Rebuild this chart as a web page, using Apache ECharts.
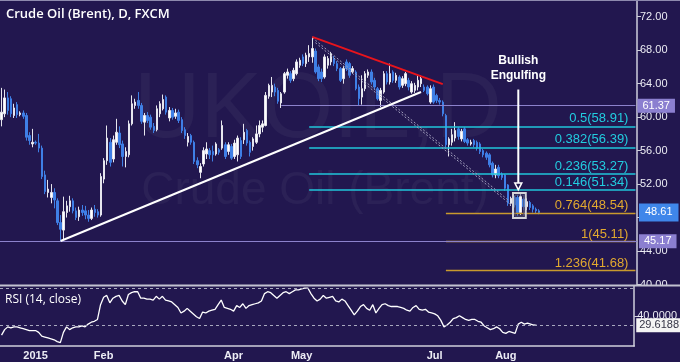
<!DOCTYPE html>
<html><head><meta charset="utf-8">
<script src="https://cdn.jsdelivr.net/npm/echarts@6/dist/echarts.min.js"></script>
<style>html,body{margin:0;padding:0;background:#22174f;}#c{width:680px;height:362px;}</style>
</head><body><div id="c"></div>
<script>
// ---------- DATA ----------
const dates = [
'2014-12-17','2014-12-18','2014-12-19','2014-12-22','2014-12-23','2014-12-24','2014-12-25','2014-12-26','2014-12-29','2014-12-30','2014-12-31',
'2015-01-01','2015-01-02','2015-01-05','2015-01-06','2015-01-07','2015-01-08','2015-01-09','2015-01-12','2015-01-13','2015-01-14','2015-01-15','2015-01-16','2015-01-19','2015-01-20','2015-01-21','2015-01-22','2015-01-23','2015-01-26','2015-01-27','2015-01-28','2015-01-29','2015-01-30',
'2015-02-02','2015-02-03','2015-02-04','2015-02-05','2015-02-06','2015-02-09','2015-02-10','2015-02-11','2015-02-12','2015-02-13','2015-02-16','2015-02-17','2015-02-18','2015-02-19','2015-02-20','2015-02-23','2015-02-24','2015-02-25','2015-02-26','2015-02-27',
'2015-03-02','2015-03-03','2015-03-04','2015-03-05','2015-03-06','2015-03-09','2015-03-10','2015-03-11','2015-03-12','2015-03-13','2015-03-16','2015-03-17','2015-03-18','2015-03-19','2015-03-20','2015-03-23','2015-03-24','2015-03-25','2015-03-26','2015-03-27','2015-03-30','2015-03-31',
'2015-04-01','2015-04-02','2015-04-03','2015-04-06','2015-04-07','2015-04-08','2015-04-09','2015-04-10','2015-04-13','2015-04-14','2015-04-15','2015-04-16','2015-04-17','2015-04-20','2015-04-21','2015-04-22','2015-04-23','2015-04-24','2015-04-27','2015-04-28','2015-04-29','2015-04-30',
'2015-05-01','2015-05-04','2015-05-05','2015-05-06','2015-05-07','2015-05-08','2015-05-11','2015-05-12','2015-05-13','2015-05-14','2015-05-15','2015-05-18','2015-05-19','2015-05-20','2015-05-21','2015-05-22','2015-05-25','2015-05-26','2015-05-27','2015-05-28','2015-05-29',
'2015-06-01','2015-06-02','2015-06-03','2015-06-04','2015-06-05','2015-06-08','2015-06-09','2015-06-10','2015-06-11','2015-06-12','2015-06-15','2015-06-16','2015-06-17','2015-06-18','2015-06-19','2015-06-22','2015-06-23','2015-06-24','2015-06-25','2015-06-26','2015-06-29','2015-06-30',
'2015-07-01','2015-07-02','2015-07-03','2015-07-06','2015-07-07','2015-07-08','2015-07-09','2015-07-10','2015-07-13','2015-07-14','2015-07-15','2015-07-16','2015-07-17','2015-07-20','2015-07-21','2015-07-22','2015-07-23','2015-07-24','2015-07-27','2015-07-28','2015-07-29','2015-07-30','2015-07-31',
'2015-08-03','2015-08-04','2015-08-05','2015-08-06','2015-08-07','2015-08-10','2015-08-11','2015-08-12','2015-08-13','2015-08-14','2015-08-17'
];
const futureDates = [
'2015-08-18','2015-08-19','2015-08-20','2015-08-21','2015-08-24','2015-08-25','2015-08-26','2015-08-27','2015-08-28','2015-08-31',
'2015-09-01','2015-09-02','2015-09-03','2015-09-04','2015-09-07','2015-09-08','2015-09-09','2015-09-10','2015-09-11','2015-09-14',
'2015-09-15','2015-09-16','2015-09-17','2015-09-18','2015-09-21','2015-09-22','2015-09-23','2015-09-24','2015-09-25','2015-09-28','2015-09-29'
];
// [open, close, low, high]
const ohlc = [
[59.7,60.6,58.9,63.5],[60.4,62.3,60.0,63.3],[62.3,60.8,60.3,63.0],[62.2,60.4,60.0,62.5],[60.2,61.1,59.9,61.6],[61.5,60.3,59.9,61.8],[60.3,60.5,60.1,60.7],[60.5,60.1,59.8,60.8],[60.2,57.6,57.2,60.5],[57.8,57.2,56.7,58.2],
[56.8,57.0,56.4,58.6],[57.0,56.9,56.7,57.2],[56.9,56.3,55.8,58.0],[56.3,52.9,52.6,56.6],[53.1,51.1,50.8,53.6],[51.0,51.4,50.4,52.5],[50.4,51.0,49.7,52.0],[51.0,50.1,49.1,51.5],[50.0,47.4,47.1,50.3],[47.4,46.6,45.2,48.3],
[46.5,48.7,45.3,50.5],[48.6,49.4,48.0,50.0],[49.3,50.0,48.7,50.6],[50.0,48.8,48.5,50.3],[48.8,48.0,47.7,49.2],[48.1,48.9,47.6,49.3],[48.9,48.6,48.2,49.5],[48.8,48.3,47.8,49.4],[48.3,47.9,47.5,48.9],[47.9,48.9,47.7,49.2],
[49.0,48.6,48.1,49.5],[48.7,48.3,48.0,49.0],[48.3,52.9,48.1,53.3],[52.6,54.8,52.1,55.1],[54.8,57.5,54.3,59.0],[57.0,54.6,54.1,57.5],[55.0,57.3,54.6,57.8],[57.0,58.2,56.7,59.8],[58.1,56.7,56.3,58.9],[56.8,55.3,54.1,57.2],
[55.3,55.9,54.0,56.4],[55.5,59.2,55.2,59.6],[59.2,61.6,59.0,62.6],[61.4,61.8,61.0,62.2],[62.0,61.4,61.0,63.0],[61.4,59.5,59.2,61.7],[59.4,60.2,57.8,60.5],[60.2,59.6,59.3,60.6],[60.0,58.8,58.5,60.3],[58.9,58.4,58.1,59.3],
[58.5,61.0,58.3,61.4],[60.4,61.6,60.0,61.9],[61.0,62.1,60.8,62.7],[62.4,60.6,60.3,62.6],[59.9,60.8,59.5,61.2],[60.8,60.0,59.7,61.1],[60.1,60.5,59.8,61.0],[60.6,59.6,59.3,60.9],[59.7,58.4,58.1,60.0],[58.5,57.8,57.4,58.8],
[57.0,57.7,56.5,58.1],[57.8,57.0,56.7,58.0],[57.0,54.7,54.4,57.2],[54.8,54.3,53.9,55.2],[53.4,54.1,52.7,54.5],[54.4,56.0,54.1,56.4],[55.6,56.2,55.0,57.0],[56.0,55.5,55.0,56.3],[55.9,55.5,54.7,56.6],[55.6,56.8,55.4,57.0],
[56.1,55.8,55.5,56.3],[56.3,59.0,56.1,59.6],[56.7,55.3,55.0,57.0],[55.9,56.7,55.5,57.0],[56.5,55.1,54.9,56.8],[55.3,56.9,55.0,57.3],[55.5,57.5,54.7,57.8],[57.2,55.3,55.0,57.6],[57.3,58.2,56.8,59.2],[58.4,56.9,56.6,58.6],
[57.0,55.8,55.3,57.2],[56.5,57.4,56.0,57.6],[57.0,58.0,56.8,59.0],[58.0,59.0,57.6,59.6],[58.8,59.2,58.2,59.6],[59.0,62.6,58.9,63.0],[62.5,63.8,62.2,64.0],[63.0,63.8,62.4,64.8],[63.6,63.0,62.5,64.0],[63.2,61.9,61.6,63.5],
[61.7,62.8,61.1,63.0],[63.0,65.2,62.8,65.4],[65.0,65.4,64.6,65.8],[65.2,64.4,64.1,65.5],[64.6,65.6,64.3,65.9],[65.2,66.6,65.0,66.9],[66.2,66.8,65.9,67.1],[67.2,66.4,66.1,67.5],[66.4,67.4,66.0,67.7],[67.2,67.6,66.6,68.6],
[67.2,68.2,66.5,69.6],[67.9,65.4,65.2,68.2],[66.0,64.6,64.3,66.3],[65.4,64.6,64.2,65.8],[64.8,67.2,64.6,67.5],[66.2,67.0,65.8,67.3],[66.6,67.6,66.2,67.8],[67.0,66.4,66.1,67.3],[66.4,65.8,65.5,66.7],[65.8,64.4,64.2,66.0],
[64.6,65.8,64.0,66.1],[66.6,65.8,65.5,66.9],[66.4,65.0,64.7,66.6],[65.4,65.8,65.2,66.1],[65.4,63.4,63.2,65.6],[63.6,62.2,61.4,63.9],[62.4,63.4,61.5,65.0],[63.4,65.2,63.1,65.5],[65.0,65.4,64.7,65.7],[65.4,64.2,63.9,65.7],
[64.4,63.6,63.3,64.7],[63.4,62.2,62.0,63.6],[62.0,63.2,61.2,63.5],[63.0,65.2,62.8,65.5],[65.2,64.2,63.9,65.5],[64.2,65.2,63.9,66.4],[65.4,64.4,64.1,65.6],[64.4,65.0,64.1,65.3],[64.8,63.6,63.3,65.0],[63.8,64.6,63.5,64.9],
[64.0,65.2,63.7,65.4],[64.4,63.6,63.2,64.7],[63.0,64.0,62.8,64.3],[63.2,63.8,62.9,64.1],[63.6,64.4,63.2,65.0],[64.0,64.6,63.6,65.0],[63.6,63.2,63.0,63.9],[63.6,62.8,62.6,63.8],[61.8,63.4,61.6,63.8],[63.6,61.8,61.6,63.9],
[62.6,62.0,61.7,62.8],[62.0,61.8,61.5,62.3],[61.8,60.4,60.1,62.0],[60.2,56.7,56.4,60.4],[56.7,57.4,55.3,57.6],[57.0,57.9,56.6,58.6],[57.5,58.4,57.1,59.4],[58.6,57.7,57.3,58.8],[57.4,58.3,57.1,58.6],[58.6,57.1,56.9,58.8],
[57.3,56.9,56.6,57.5],[56.8,57.0,56.6,57.3],[57.2,56.7,56.4,57.4],[57.0,56.3,56.0,57.2],[56.8,55.9,55.6,57.0],[56.0,55.5,55.2,56.2],[55.7,55.2,54.9,55.9],[55.5,54.3,54.0,55.7],[54.5,53.1,52.8,54.7],[53.1,53.8,52.7,54.3],
[54.0,53.0,52.7,54.3],[53.2,52.8,52.5,53.4],[53.1,51.5,51.2,53.2],[51.9,49.7,49.4,52.0],[49.7,50.3,49.4,50.5],[50.4,49.5,49.2,50.6],[50.4,48.6,48.2,50.7],[48.6,50.5,48.3,50.8],[50.2,49.3,48.9,50.4],[49.3,49.9,48.9,50.3],
[49.8,49.2,48.9,50.0],[49.4,49.0,48.6,49.6],[49.0,48.8,48.5,49.2],[48.8,48.61,48.4,49.0]
];
const rsi = [
19,25,28,27,28,28,27,26,25,24, 24,24,22,18,17,16,15,14,12,11, 22,28,25,27,28,28,29,28,31,33,
34,36,52,60,62,54,59,61,62,56, 52,63,65,66,66,59,59,58,58,57, 61,58,61,57,56,55,52,49,43,45,
48,45,42,39,37,44,43,45,46,47, 52,57,49,48,47,45,51,49,53,48, 51,52,53,54,56,64,66,65,62,59,
62,65,66,64,66,68,68,69,70,70, 64,59,56,58,62,59,60,61,56,55, 58,56,51,46,41,45,50,52,48,46,
52,43,48,52,53,51,50,50,50,49, 48,46,45,49,51,47,46,47,44,43, 42,40,35,28,30,33,37,38,40,38,
36,35,36,36,34,33,29,27,25,26, 28,26,22,21,23,22,21,31,33,31, 32,31,30,29.6188
];
const tickDates = ['2015-01-01','2015-02-02','2015-04-01','2015-05-01','2015-07-01','2015-08-03'];
const tickNames = ['2015','Feb','Apr','May','Jul','Aug'];
const fibUpRatios = ['0.5','0.382','0.236','0.146'];
const fibUpValues = [58.91, 56.39, 53.27, 51.34];
const fibUpStart = '2015-05-05';
const fibDownRatios = ['0.764','1','1.236'];
const fibDownValues = [48.54, 45.11, 41.68];
const fibDownStart = '2015-07-06';
const resistance = {start:'2015-04-22', value:61.37};
const support = 45.17;
const lastPrice = 48.61;
const rsiLast = 29.6188;
const rsiBands = [70, 30];
// trendlines: [startDate, startPrice, endDate, endPrice]
const redLine = ['2015-05-06', 69.6, '2015-07-03', 63.94];
const whiteLine = ['2015-01-13', 45.2, '2015-06-24', 63.0];
const channelA = ['2015-05-06', 69.5, '2015-08-03', 50.1];
const channelB = ['2015-05-07', 68.9, '2015-08-04', 49.5];
// annotation: engulfing candle indices, box price top/bottom, arrow top/tip, text prices
const engulfIdx = [166, 167];
const engulfBox = [50.93, 47.94];
const arrowPrices = [63.3, 51.3];
const notePrices = [66.7, 65.0];
const noteLines = ['Bullish', 'Engulfing'];

// ---------- CHART ----------
const BG = '#22174f';
const FONT = '"Liberation Sans", Arial, sans-serif';
const CLEAR = 'rgba(0,0,0,0)';
const allDates = dates.concat(futureDates);
const lastCat = allDates[allDates.length - 1];
const chart = echarts.init(document.getElementById('c'), null, {width:680, height:362});

function seg(d1, p1, d2, p2, lineStyle, label) {
  return [{coord:[d1, p1], lineStyle: lineStyle, label: label || {show:false}}, {coord:[d2, p2]}];
}
function boxLabel(text, bg, pad) {
  return {show:true, position:'end', distance:2, formatter:text, backgroundColor:bg, color:'#ffffff',
          padding:pad || [2,5,1,5], fontSize:11, fontFamily:FONT};
}
const markLines = [];
fibUpValues.forEach((v, k) => markLines.push(seg(fibUpStart, v, lastCat, v, {color:'#20c6da', width:1.6, type:'solid'},
  {show:true, position:'insideEndTop', distance:[7,1], formatter: fibUpRatios[k] + '(' + v.toFixed(2) + ')', color:'#22cde0', fontSize:13, fontFamily:FONT})));
fibDownValues.forEach((v, k) => markLines.push(seg(fibDownStart, v, lastCat, v, {color:'#c99a2e', width:1.3, type:'solid'},
  {show:true, position:'insideEndTop', distance:[7,1], formatter: fibDownRatios[k] + '(' + v.toFixed(2) + ')', color:'#e2a92f', fontSize:13, fontFamily:FONT})));
markLines.push(seg(resistance.start, resistance.value, lastCat, resistance.value, {color:'#8c82cc', width:1.2, type:'solid'},
  boxLabel(resistance.value.toFixed(2), '#8b7fd0')));
markLines.push({yAxis: support, lineStyle:{color:'#8c82cc', width:1.2, type:'solid'}, label: boxLabel(support.toFixed(2), '#8b7fd0')});
markLines.push({yAxis: lastPrice, lineStyle:{color:CLEAR, width:1}, label: boxLabel(lastPrice.toFixed(2), '#3f86ea', [4,6,3,6])});
markLines.push(seg(channelA[0], channelA[1], channelA[2], channelA[3], {color:'#a29fbe', width:1, type:[2,2]}));
markLines.push(seg(channelB[0], channelB[1], channelB[2], channelB[3], {color:'#a29fbe', width:1, type:[2,2]}));
markLines.push(seg(whiteLine[0], whiteLine[1], whiteLine[2], whiteLine[3], {color:'#ffffff', width:2, type:'solid'}));
markLines.push(seg(redLine[0], redLine[1], redLine[2], redLine[3], {color:'#e8141c', width:2, type:'solid'}));

const showTick = (idx, val) => tickDates.indexOf(val) >= 0;

const option = {
  backgroundColor: BG,
  animation: false,
  grid: [
    {left:0, right:43, top:0, height:284.5},
    {left:0, right:43, top:286, height:60}
  ],
  xAxis: [
    {type:'category', gridIndex:0, data:allDates, axisLine:{show:false}, axisTick:{show:false}, axisLabel:{show:false}, splitLine:{show:false}},
    {type:'category', gridIndex:1, data:allDates,
     axisLine:{lineStyle:{color:'#cfcfdc', width:1.5}},
     axisTick:{interval:showTick, alignWithLabel:true, length:3, lineStyle:{color:'#cfcfdc'}},
     axisLabel:{interval:showTick, formatter:(v) => tickNames[tickDates.indexOf(v)] || '', color:'#ececf4', fontSize:11, fontWeight:'bold', fontFamily:FONT, margin:4},
     splitLine:{show:false}}
  ],
  yAxis: [
    {type:'value', gridIndex:0, position:'right', min:40, max:74, interval:4,
     axisLine:{show:true, lineStyle:{color:'#cfcfdc', width:1.5}},
     axisTick:{show:true, length:4, lineStyle:{color:'#cfcfdc'}},
     axisLabel:{showMaxLabel:false, formatter:(v) => v.toFixed(2), color:'#ececf4', fontSize:11, fontFamily:FONT, margin:3},
     splitLine:{show:false}},
    {type:'value', gridIndex:1, position:'right', min:7.3, max:72.2,
     axisLine:{show:true, lineStyle:{color:'#cfcfdc', width:1.5}},
     axisTick:{show:true, length:4, customValues:[40], lineStyle:{color:'#cfcfdc'}},
     axisLabel:{customValues:[40], formatter:(v) => Number(v).toFixed(4), color:'#ececf4', fontSize:11, fontFamily:FONT, margin:3},
     splitLine:{show:false}}
  ],
  series: [
    {type:'candlestick', xAxisIndex:0, yAxisIndex:0, data:ohlc, barWidth:2, large:false,
     itemStyle:{color:'#ffffff', color0:'#3f7fe6', borderColor:'#e6e6ee', borderColor0:'#3f7fe6', borderWidth:1},
     markLine:{silent:true, symbol:['none','none'], precision:4, data:markLines}},
    {type:'custom', xAxisIndex:0, yAxisIndex:0, silent:true, z:5, data:[[engulfIdx[0], engulfBox[0]]],
     renderItem: function (params, api) {
       const band = api.size([1, 0])[0];
       const pA = api.coord([engulfIdx[0], engulfBox[0]]);
       const pB = api.coord([engulfIdx[1], engulfBox[1]]);
       const x0 = pA[0] - 1.4 * band, x1 = pB[0] + 1.7 * band;
       const ax = pA[0] + 0.3 * band;
       const top = api.coord([engulfIdx[0], arrowPrices[0]])[1];
       const tip = api.coord([engulfIdx[0], arrowPrices[1]])[1];
       const t1 = api.coord([engulfIdx[0], notePrices[0]])[1];
       const t2 = api.coord([engulfIdx[0], notePrices[1]])[1];
       return {type:'group', children:[
         {type:'rect', shape:{x:x0, y:pA[1], width:x1 - x0, height:pB[1] - pA[1]}, style:{fill:'none', stroke:'#d4d4d8', lineWidth:2}},
         {type:'rect', shape:{x:x0 + 2, y:pA[1] + 2, width:x1 - x0 - 4, height:pB[1] - pA[1] - 4}, style:{fill:'none', stroke:'#5a5a78', lineWidth:1}},
         {type:'line', shape:{x1:ax, y1:top, x2:ax, y2:tip - 7}, style:{stroke:'#ffffff', lineWidth:2}},
         {type:'polygon', shape:{points:[[ax - 3.5, tip - 7], [ax + 3.5, tip - 7], [ax, tip]]}, style:{fill:BG, stroke:'#ffffff', lineWidth:1.5}},
         {type:'text', x:ax, y:t1, style:{text:noteLines[0], align:'center', verticalAlign:'middle', fill:'#ffffff', font:'bold 12px ' + FONT}},
         {type:'text', x:ax, y:t2, style:{text:noteLines[1], align:'center', verticalAlign:'middle', fill:'#ffffff', font:'bold 12px ' + FONT}}
       ]};
     }},
    {type:'line', xAxisIndex:1, yAxisIndex:1, data:rsi, showSymbol:false, symbol:'none',
     lineStyle:{color:'#ffffff', width:1.3},
     markLine:{silent:true, symbol:['none','none'], precision:4, data:[
       {yAxis:rsiBands[0], lineStyle:{color:'#a8a8be', width:1, type:[3,3]}, label:{show:false}},
       {yAxis:rsiBands[1], lineStyle:{color:'#a8a8be', width:1, type:[3,3]}, label:{show:false}},
       {yAxis:rsiLast, lineStyle:{color:CLEAR, width:1}, label:{show:true, position:'end', distance:2, formatter:rsiLast.toFixed(4), backgroundColor:'#f4f4f4', color:'#333344', padding:[2,3,1,3], fontSize:11, fontFamily:FONT}}
     ]}}
  ],
  graphic: [
    {type:'text', x:318, y:112, z:0, silent:true, style:{text:'UKOIL,D', align:'center', verticalAlign:'middle', font:'92px ' + FONT, fill:'rgba(255,255,255,0.045)'}},
    {type:'text', x:315, y:191, z:0, silent:true, style:{text:'Crude Oil (Brent)', align:'center', verticalAlign:'middle', font:'46px ' + FONT, fill:'rgba(255,255,255,0.045)'}},
    {type:'text', x:6, y:14, z:10, silent:true, style:{text:'Crude Oil (Brent), D, FXCM', verticalAlign:'middle', font:'600 13px "Open Sans", sans-serif', fill:'#ffffff'}},
    {type:'text', x:5, y:300, z:10, silent:true, style:{text:'RSI (14, close)', verticalAlign:'middle', font:'12px "Open Sans", sans-serif', fill:'#ffffff'}},
    {type:'rect', z:50, silent:true, shape:{x:639, y:286, width:41, height:7}, style:{fill:BG}},
    {type:'line', z:51, silent:true, shape:{x1:0, y1:285.5, x2:680, y2:285.5}, style:{stroke:'#c2c2d0', lineWidth:2}},
    {type:'line', z:51, silent:true, shape:{x1:0, y1:0.5, x2:680, y2:0.5}, style:{stroke:'#8e8aae', lineWidth:1}}
  ]
};
chart.setOption(option);
</script></body></html>
